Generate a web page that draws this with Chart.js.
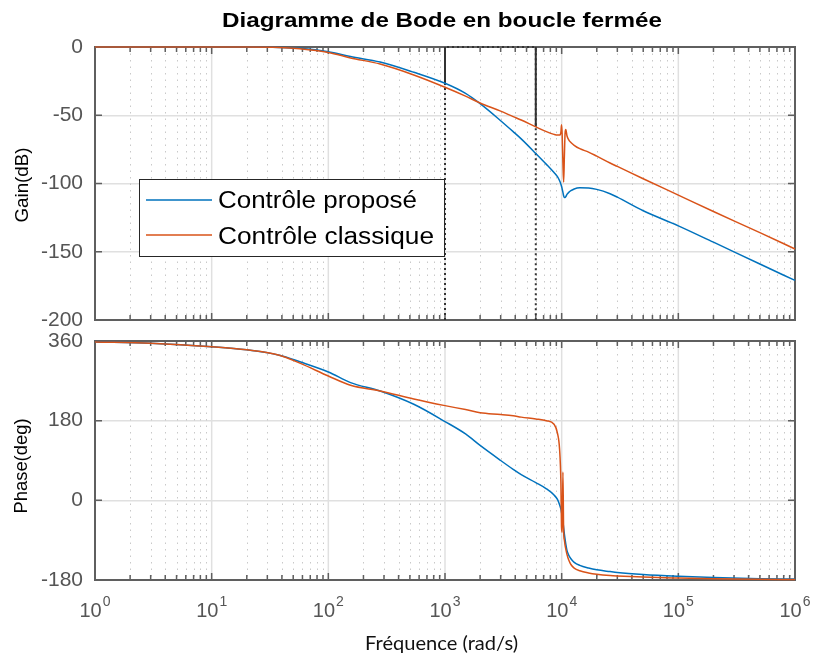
<!DOCTYPE html>
<html>
<head>
<meta charset="utf-8">
<script src="https://cdn.jsdelivr.net/npm/chart.js@4.4.0/dist/chart.umd.min.js"></script>
<style>
body { margin: 0; background: #fff; }
#wrap { position: relative; width: 813px; height: 657px; }
canvas { position: absolute; left: 0; top: 0; }
</style>
</head>
<body>
<div id="wrap">
  <canvas id="gainChart" width="813" height="657"></canvas>
  <canvas id="phaseChart" width="813" height="657"></canvas>
</div>
<script>
// frequency points (rad/s)
var freq = [1, 3, 10, 20, 38, 57, 100, 155, 278, 540,
  1000, 1500, 2000, 3000, 3840, 4500, 6000, 7400, 8600, 9200,
  9600, 9850, 9970, 10100, 10250, 10400, 10550, 10700, 10850, 11100,
  11500, 12000, 12800, 14300, 17000, 20000, 26000, 30000, 50000, 100000,
  200000, 500000, 1000000];

// gain (dB)
var gainProp = [0, 0, 0, 0, -0.3, -1, -3.5, -7, -11, -18.5,
  -26.6, -34, -41.5, -54, -62, -67.3, -78, -86, -92, -95,
  -98, -100.5, -102, -104, -106.5, -109, -110.3, -110.3, -109.6, -108,
  -106.5, -105.3, -104, -103.2, -103.3, -104.3, -107.5, -110, -120, -131,
  -143, -159, -171];
var gainClass = [0, 0, 0, 0, -0.3, -1.3, -4, -8, -12.5, -20.5,
  -29.5, -36, -41, -47, -51, -53.5, -58.5, -62, -64, -64.5,
  -64.5, -62.5, -57, -64, -85, -99, -80, -63, -60.5, -65,
  -68, -70, -72, -74.5, -77, -80, -85, -87.5, -96.5, -108.5,
  -120.5, -136, -148];

// phase (deg)
var phaseProp = [358, 355, 347, 340, 328, 313, 290, 266, 247, 217,
  178, 150, 124, 90, 70, 58, 40, 26, 12, 2,
  -10, -20, -27, -36, -48, -62, -76, -88, -99, -113,
  -124, -132, -140, -147, -153, -157, -161, -163, -167.5, -171.5,
  -174.5, -177, -178];
var phaseClass = [358, 355, 347, 340, 328, 310, 281, 260, 247, 229,
  214, 205, 198, 194, 191, 188, 184, 180, 172, 152,
  115, 40, -60, -72, 64, -72, -90, -102, -110, -122,
  -135, -145, -153, -159, -164, -167, -170, -171, -173.5, -175.5,
  -177, -178.5, -179];

var xTicks = [1, 10, 100, 1000, 10000, 100000, 1000000];
var gainTicks = [0, -50, -100, -150, -200];
var phaseTicks = [360, 180, 0, -180];

// datatip markers on the gain plot
var markFreq = [1000, 6000];
var markGain = [-26.6, -58.5];

var seriesNames = ['Contrôle proposé', 'Contrôle classique'];

var blue = '#0072BD';
var orange = '#D95319';
var frameCol = '#5f5f5f';
var labelCol = '#555';
var fam = '"Liberation Sans", Arial, sans-serif';

function pts(ys) {
  return freq.map(function (f, i) { return { x: f, y: ys[i] }; });
}

// text drawn on the canvas, optionally stretched to a given width
function fitText(ctx, s, x, y, opt) {
  ctx.save();
  ctx.font = opt.font;
  ctx.fillStyle = opt.color || '#000';
  ctx.textAlign = opt.align || 'left';
  ctx.textBaseline = opt.base || 'alphabetic';
  ctx.translate(x, y);
  if (opt.rot) ctx.rotate(opt.rot);
  if (opt.width) ctx.scale(opt.width / ctx.measureText(s).width, 1);
  ctx.fillText(s, 0, 0);
  ctx.restore();
}

// grid, box and inner ticks, matlab style
function drawFrame(chart, yTicks) {
  var ctx = chart.ctx, a = chart.chartArea;
  var xs = chart.scales.x, ys = chart.scales.y;
  ctx.save();
  ctx.lineWidth = 1;
  ctx.strokeStyle = '#c9c9c9';
  ctx.setLineDash([1.5, 5]);
  for (var d = 0; d < 6; d++) {
    for (var k = 2; k < 10; k++) {
      var px = Math.round(xs.getPixelForValue(k * Math.pow(10, d))) + 0.5;
      ctx.beginPath(); ctx.moveTo(px, a.top); ctx.lineTo(px, a.bottom); ctx.stroke();
    }
  }
  ctx.setLineDash([]);
  ctx.strokeStyle = '#e0e0e0';
  ctx.lineWidth = 1.5;
  xTicks.forEach(function (v) {
    var px = xs.getPixelForValue(v);
    ctx.beginPath(); ctx.moveTo(px, a.top); ctx.lineTo(px, a.bottom); ctx.stroke();
  });

  ctx.strokeStyle = frameCol;
  ctx.lineWidth = 1.5;
  for (var d2 = 0; d2 < 6; d2++) {
    for (var k2 = 1; k2 < 10; k2++) {
      var v = k2 * Math.pow(10, d2);
      var p = xs.getPixelForValue(v);
      var len = k2 === 1 ? 7 : 5;
      ctx.beginPath();
      ctx.moveTo(p, a.bottom); ctx.lineTo(p, a.bottom - len);
      ctx.moveTo(p, a.top); ctx.lineTo(p, a.top + len);
      ctx.stroke();
    }
  }
  yTicks.forEach(function (v) {
    var py = ys.getPixelForValue(v);
    ctx.beginPath();
    ctx.moveTo(a.left, py); ctx.lineTo(a.left + 7, py);
    ctx.moveTo(a.right, py); ctx.lineTo(a.right - 7, py);
    ctx.stroke();
  });
  ctx.lineWidth = 2;
  ctx.strokeRect(a.left, a.top, a.right - a.left, a.bottom - a.top);
  ctx.restore();
}

function yAxis(min, max, list) {
  return {
    min: min,
    max: max,
    afterBuildTicks: function (s) { s.ticks = list.map(function (v) { return { value: v }; }); },
    afterFit: function (s) { s.width = 95; },
    ticks: { color: labelCol, font: { family: fam, size: 21 }, padding: 12 },
    grid: { color: '#e0e0e0', lineWidth: 1.5, drawTicks: false },
    border: { display: false }
  };
}

var xAxis = { type: 'logarithmic', min: 1, max: 1000000, display: false };

function curve(label, color, ys) {
  return {
    label: label, data: pts(ys), borderColor: color, borderWidth: 1.5,
    pointRadius: 0, cubicInterpolationMode: 'monotone', clip: false
  };
}

// gain plot
var gainPlugin = {
  id: 'gainDecor',
  beforeDatasetsDraw: function (chart) { drawFrame(chart, gainTicks); },
  afterDraw: function (chart) {
    var ctx = chart.ctx;
    fitText(ctx, 'Diagramme de Bode en boucle fermée', 442, 27,
      { font: 'bold 20px ' + fam, align: 'center', width: 440 });
    fitText(ctx, 'Gain(dB)', 23, 185,
      { font: '18px ' + fam, align: 'center', base: 'middle', rot: -Math.PI / 2, width: 75 });

    // legend
    ctx.save();
    ctx.fillStyle = '#fff';
    ctx.fillRect(139, 179, 305, 77);
    ctx.strokeStyle = '#262626';
    ctx.lineWidth = 1;
    ctx.strokeRect(139.5, 179.5, 305, 77);
    ctx.lineWidth = 1.5;
    ctx.strokeStyle = blue;
    ctx.beginPath(); ctx.moveTo(146, 200); ctx.lineTo(212, 200); ctx.stroke();
    ctx.strokeStyle = orange;
    ctx.beginPath(); ctx.moveTo(146, 235); ctx.lineTo(212, 235); ctx.stroke();
    ctx.restore();
    fitText(ctx, seriesNames[0], 218, 208, { font: '23px ' + fam, width: 199 });
    fitText(ctx, seriesNames[1], 218, 244, { font: '23px ' + fam, width: 216 });
  }
};

new Chart(document.getElementById('gainChart'), {
  type: 'line',
  data: {
    datasets: [
      curve(seriesNames[1], orange, gainClass),
      curve(seriesNames[0], blue, gainProp),
      {
        data: [{ x: markFreq[0], y: markGain[0] }, { x: markFreq[0], y: 0 }],
        borderColor: '#333', borderWidth: 2, pointRadius: 0, clip: false
      },
      {
        data: [{ x: markFreq[1], y: markGain[1] }, { x: markFreq[1], y: 0 }],
        borderColor: '#333', borderWidth: 2, pointRadius: 0, clip: false
      },
      {
        data: [{ x: markFreq[0], y: -200 }, { x: markFreq[0], y: 0 },
               { x: markFreq[1], y: 0 }, { x: markFreq[1], y: -200 }],
        borderColor: '#333', borderWidth: 2, borderDash: [2, 3], pointRadius: 0, clip: false
      }
    ]
  },
  options: {
    responsive: false,
    animation: false,
    devicePixelRatio: 1,
    layout: { padding: { left: 0, right: 18, top: 47, bottom: 337 } },
    scales: { x: xAxis, y: yAxis(-200, 0, gainTicks) },
    plugins: { legend: { display: false }, tooltip: { enabled: false } }
  },
  plugins: [gainPlugin]
});

// phase plot
var phasePlugin = {
  id: 'phaseDecor',
  beforeDatasetsDraw: function (chart) { drawFrame(chart, phaseTicks); },
  afterDraw: function (chart) {
    var ctx = chart.ctx, xs = chart.scales.x;
    fitText(ctx, 'Phase(deg)', 22, 466,
      { font: '18px ' + fam, align: 'center', base: 'middle', rot: -Math.PI / 2, width: 95 });
    xTicks.forEach(function (v) {
      var px = xs.getPixelForValue(v);
      var e = String(Math.round(Math.log10(v)));
      ctx.font = '20px ' + fam;
      var w1 = ctx.measureText('10').width;
      ctx.font = '14px ' + fam;
      var w2 = ctx.measureText(e).width;
      var x0 = px - (w1 + w2 + 1) / 2;
      fitText(ctx, '10', x0, 617, { font: '20px ' + fam, color: labelCol });
      fitText(ctx, e, x0 + w1 + 1, 606, { font: '14px ' + fam, color: labelCol });
    });
    fitText(ctx, 'Fréquence (rad/s)', 441.5, 650,
      { font: '19px Lato, "Open Sans", sans-serif', align: 'center', color: '#111', width: 153 });
  }
};

new Chart(document.getElementById('phaseChart'), {
  type: 'line',
  data: {
    datasets: [
      curve(seriesNames[1], orange, phaseClass),
      curve(seriesNames[0], blue, phaseProp)
    ]
  },
  options: {
    responsive: false,
    animation: false,
    devicePixelRatio: 1,
    layout: { padding: { left: 0, right: 18, top: 341, bottom: 77 } },
    scales: { x: xAxis, y: yAxis(-180, 360, phaseTicks) },
    plugins: { legend: { display: false }, tooltip: { enabled: false } }
  },
  plugins: [phasePlugin]
});
</script>
</body>
</html>
